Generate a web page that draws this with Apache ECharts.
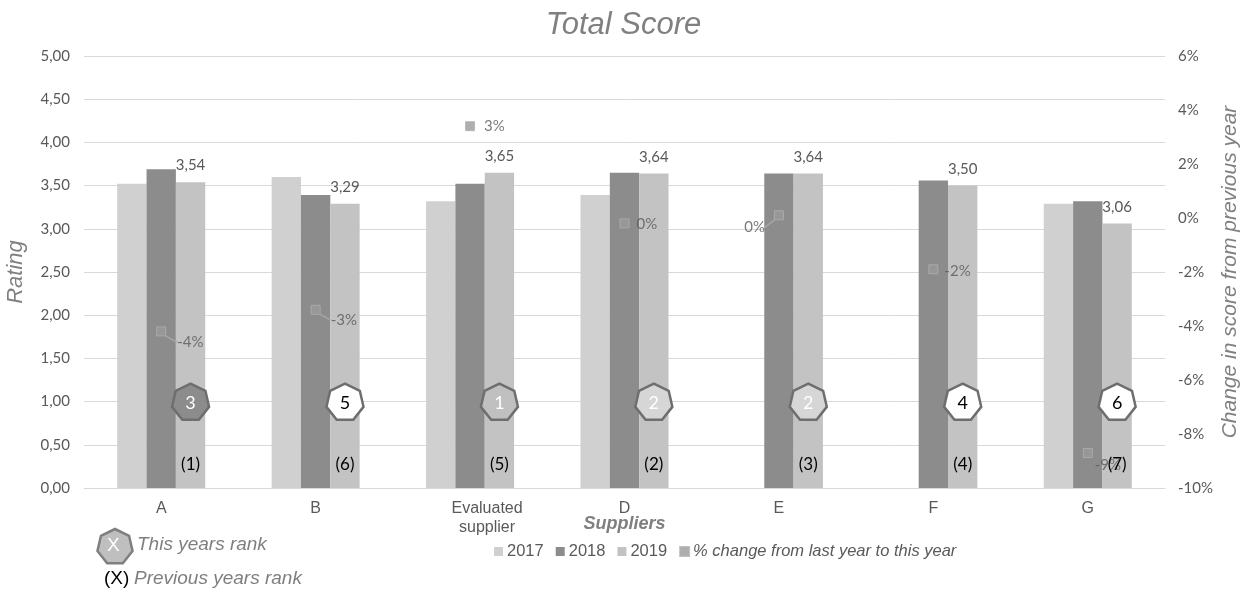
<!DOCTYPE html>
<html>
<head>
<meta charset="utf-8">
<title>Total Score</title>
<script src="https://cdn.jsdelivr.net/npm/echarts@6/dist/echarts.min.js"></script>
<style>
  html, body { margin: 0; padding: 0; background: #ffffff; }
  #chart { width: 1247px; height: 595px; }
</style>
</head>
<body>
<div id="chart"></div>
<script>
// Supplier ratings per year
const categories = ['A', 'B', 'Evaluated\nsupplier', 'D', 'E', 'F', 'G'];
const score2017 = [3.52, 3.60, 3.32, 3.39, null, null, 3.29];
const score2018 = [3.69, 3.39, 3.52, 3.65, 3.64, 3.56, 3.32];
const score2019 = [3.54, 3.29, 3.65, 3.64, 3.64, 3.50, 3.06];
// % change from last year to this year
const changePct = [-4.2, -3.4, 3.4, -0.2, 0.1, -1.9, -8.7];
// Rankings
const rankThisYear = [3, 5, 1, 2, 2, 4, 6];
const rankLastYear = [1, 6, 5, 2, 3, 4, 7];
const legendNames = ['2017', '2018', '2019', '% change from last year to this year'];

// Styling
const ARIAL = '"Liberation Sans", Arial, sans-serif';
const CALIBRI = 'Lato, "Open Sans", sans-serif';
const BAR_CATEGORY_GAP = 0.43;
const RANK_Y = 1.0;        // rating level where the rank badges sit
const PREV_RANK_Y = 0.27;  // rating level of the previous-rank text
const rankFill = ['#8c8c8c', '#ffffff', '#c0c0c0', '#d6d6d6', '#d6d6d6', '#ffffff', '#ffffff'];
const rankText = ['#ffffff', '#000000', '#ffffff', '#ffffff', '#ffffff', '#000000', '#000000'];
const pctLabelShift = [[6, 11], [5, 10], [4, 0], [2, 1], [-4, 12], [1, 2], [-3, 12]];
const pctLabelSide = ['right', 'right', 'right', 'right', 'left', 'right', 'right'];
const pctLeader = [true, true, false, false, true, false, false];
// the two-line category label sits a little right of its slot
const categoryLabelPad = [0, 0, 34, 0, 0, 0, 0];

function comma(v, d) { return v.toFixed(d).replace('.', ','); }

function heptagon(cx, cy, r) {
  const pts = [];
  for (let k = 0; k < 7; k++) {
    const a = -Math.PI / 2 + k * 2 * Math.PI / 7;
    pts.push([cx + r * Math.cos(a), cy + r * Math.sin(a)]);
  }
  return pts;
}

const chart = echarts.init(document.getElementById('chart'), null, { renderer: 'canvas' });

const option = {
  animation: false,
  backgroundColor: '#ffffff',
  title: {
    text: 'Total Score',
    left: 'center',
    top: 5,
    textStyle: { fontFamily: ARIAL, fontSize: 31, fontStyle: 'italic', fontWeight: 'normal', color: '#808080' }
  },
  grid: { left: 84, right: 82, top: 56, bottom: 107, containLabel: false, outerBoundsMode: 'none' },
  legend: {
    left: 489,
    top: 538,
    icon: 'rect',
    itemWidth: 9,
    itemHeight: 9,
    itemGap: 12,
    selectedMode: false,
    textStyle: { fontFamily: ARIAL, fontSize: 16.5, color: '#595959', padding: [0, 0, 0, -1] },
    data: [
      legendNames[0], legendNames[1], legendNames[2],
      { name: legendNames[3], textStyle: { fontStyle: 'italic' } }
    ]
  },
  xAxis: {
    type: 'category',
    data: categories.map((c, i) => ({
      value: c,
      textStyle: { padding: [0, 0, 0, categoryLabelPad[i]] }
    })),
    axisTick: { show: false },
    axisLine: { lineStyle: { color: '#d9d9d9', width: 1 } },
    axisLabel: { fontFamily: ARIAL, fontSize: 16, color: '#595959', margin: 11, lineHeight: 19 },
    name: 'Suppliers',
    nameLocation: 'middle',
    nameGap: 27,
    nameMoveOverlap: false,
    nameTextStyle: { fontFamily: ARIAL, fontSize: 18, fontStyle: 'italic', fontWeight: 'bold', color: '#7f7f7f' }
  },
  yAxis: [
    {
      type: 'value',
      min: 0, max: 5, interval: 0.5,
      axisLine: { show: false },
      axisTick: { show: false },
      splitLine: { lineStyle: { color: '#d9d9d9', width: 1 } },
      axisLabel: { fontFamily: CALIBRI, fontSize: 15, color: '#595959', margin: 14, formatter: v => comma(v, 2) },
      name: 'Rating',
      nameLocation: 'middle',
      nameGap: 57,
      nameMoveOverlap: false,
      nameTextStyle: { fontFamily: ARIAL, fontSize: 22, fontStyle: 'italic', color: '#808080' }
    },
    {
      type: 'value',
      min: -10, max: 6, interval: 2,
      axisLine: { show: false },
      axisTick: { show: false },
      splitLine: { show: false },
      axisLabel: { fontFamily: CALIBRI, fontSize: 15, color: '#595959', margin: 13, formatter: v => v + '%' },
      name: 'Change in score from previous year',
      nameLocation: 'middle',
      nameGap: 55,
      nameRotate: 90,
      nameMoveOverlap: false,
      nameTextStyle: { fontFamily: ARIAL, fontSize: 21, fontStyle: 'italic', color: '#808080' }
    }
  ],
  series: [
    {
      name: legendNames[0], type: 'bar', data: score2017,
      barGap: '0%', barCategoryGap: (BAR_CATEGORY_GAP * 100) + '%',
      itemStyle: { color: '#d0d0d0' }
    },
    {
      name: legendNames[1], type: 'bar', data: score2018,
      barGap: '0%', barCategoryGap: (BAR_CATEGORY_GAP * 100) + '%',
      itemStyle: { color: '#8c8c8c' }
    },
    {
      name: legendNames[2], type: 'bar', data: score2019,
      barGap: '0%', barCategoryGap: (BAR_CATEGORY_GAP * 100) + '%',
      itemStyle: { color: '#c3c3c3' },
      label: {
        show: true, position: 'top', distance: 9,
        fontFamily: CALIBRI, fontSize: 15, color: '#595959',
        formatter: p => comma(p.value, 2)
      }
    },
    {
      name: legendNames[3], type: 'scatter', yAxisIndex: 1,
      symbol: 'rect', symbolSize: 9, z: 5,
      itemStyle: { color: '#9a9a9a', borderColor: '#b0b0b0', borderWidth: 1 },
      label: {
        show: true, distance: 5,
        fontFamily: CALIBRI, fontSize: 15, color: '#595959',
        formatter: p => Math.round(p.value[1]) + '%'
      },
      labelLine: { show: false, lineStyle: { color: '#a6a6a6', width: 1.5 } },
      labelLayout: p => ({ dx: pctLabelShift[p.dataIndex][0], dy: pctLabelShift[p.dataIndex][1] }),
      data: changePct.map((v, i) => ({
        value: [i, v],
        label: { position: pctLabelSide[i] },
        labelLine: { show: pctLeader[i] }
      }))
    },
    {
      name: 'rank', type: 'custom', z: 6,
      data: rankThisYear.map((r, i) => [i, RANK_Y, r, rankLastYear[i]]),
      renderItem: function (params, api) {
        const i = params.dataIndex;
        const band = api.size([1, 0])[0];
        const barW = band * (1 - BAR_CATEGORY_GAP) / 3;
        const p = api.coord([i, RANK_Y]);
        const q = api.coord([i, PREV_RANK_Y]);
        const cx = p[0] + barW;
        const cy = p[1] + 1;
        return {
          type: 'group',
          children: [
            {
              type: 'polygon',
              shape: { points: heptagon(cx, cy, 19) },
              style: { fill: rankFill[i], stroke: '#6e6e6e', lineWidth: 2.5 }
            },
            {
              type: 'text',
              style: {
                x: cx, y: cy + 1, text: String(api.value(2)),
                align: 'center', verticalAlign: 'middle',
                fill: rankText[i], font: '18px ' + CALIBRI
              }
            },
            {
              type: 'text',
              style: {
                x: q[0] + barW, y: q[1], text: '(' + api.value(3) + ')',
                align: 'center', verticalAlign: 'middle',
                fill: '#000000', font: '17px ' + CALIBRI
              }
            }
          ]
        };
      }
    }
  ],
  graphic: [
    {
      type: 'polygon',
      shape: { points: heptagon(115, 547, 18) },
      style: { fill: '#bfbfbf', stroke: '#7f7f7f', lineWidth: 2.5 }
    },
    {
      type: 'text', left: 107, top: 536,
      style: { text: 'X', fill: '#ffffff', font: '19px ' + ARIAL }
    },
    {
      type: 'text', left: 137, top: 535,
      style: { text: 'This years rank', fill: '#7f7f7f', font: 'italic 19px ' + ARIAL }
    },
    {
      type: 'text', left: 104, top: 569,
      style: { text: '(X)', fill: '#000000', font: '19px ' + ARIAL }
    },
    {
      type: 'text', left: 134, top: 569,
      style: { text: 'Previous years rank', fill: '#7f7f7f', font: 'italic 19px ' + ARIAL }
    }
  ]
};

chart.setOption(option);
</script>
</body>
</html>
